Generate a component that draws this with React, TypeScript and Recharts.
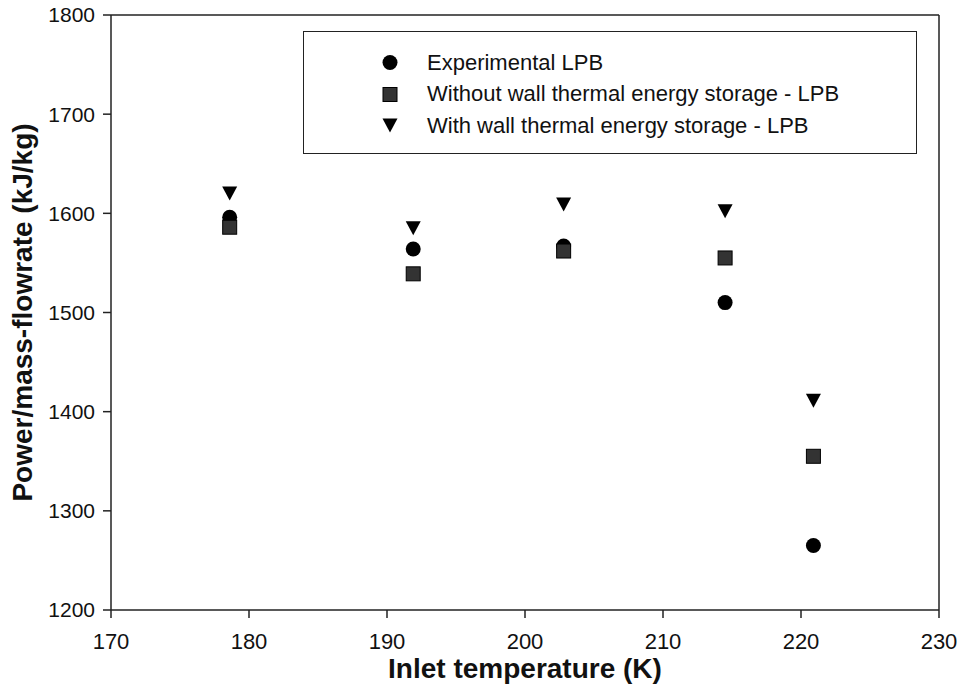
import { ScatterChart, Scatter, XAxis, YAxis, ReferenceLine } from "recharts"

const temperatures = [178.6, 191.9, 202.8, 214.5, 220.9]
const experimental = [1596, 1564, 1567, 1510, 1265]
const withoutStorage = [1586, 1539, 1562, 1555, 1355]
const withStorage = [1620, 1585, 1609, 1602, 1411]
const xTicks = [170, 180, 190, 200, 210, 220, 230]
const yTicks = [1200, 1300, 1400, 1500, 1600, 1700, 1800]

const FONT = "'Liberation Sans', Arial, sans-serif"

const toPoints = (vals: number[]) => temperatures.map((t, i) => ({ x: t, y: vals[i] }))

const CircleShape = ({ cx, cy }: any) => <circle cx={cx} cy={cy} r={7.5} fill="#000" />
const SquareShape = ({ cx, cy }: any) => (
    <rect x={cx - 7} y={cy - 7} width={14} height={14} fill="#333" stroke="#000" strokeWidth={1} />
)
const TriangleShape = ({ cx, cy }: any) => (
    <path d={`M${cx - 7.5},${cy - 7} L${cx + 7.5},${cy - 7} L${cx},${cy + 7} Z`} fill="#000" />
)

const legendItems = [
    { name: "Experimental LPB", Shape: CircleShape },
    { name: "Without wall thermal energy storage - LPB", Shape: SquareShape },
    { name: "With wall thermal energy storage - LPB", Shape: TriangleShape },
]

// legend drawn as an overlay box so it doesn't eat into the plot area
function LegendBox() {
    return (
        <div style={{ position: "absolute", left: 303, top: 31, width: 614, height: 123, border: "1.5px solid #222", background: "#fff", boxSizing: "border-box" }}>
            {legendItems.map((item, i) => (
                <div key={item.name} style={{ position: "absolute", left: 0, top: 15 + i * 31.5, height: 31, display: "flex", alignItems: "center" }}>
                    <svg width={120} height={31} style={{ display: "block" }}>
                        <item.Shape cx={86} cy={15.5} />
                    </svg>
                    <span style={{ fontFamily: FONT, fontSize: 22, color: "#111", marginLeft: 3 }}>{item.name}</span>
                </div>
            ))}
        </div>
    )
}

export default function App() {
    return (
        <div style={{ position: "absolute", left: 0, top: 0, width: 964, height: 694, background: "#fff" }}>
            <ScatterChart width={964} height={694} margin={{ top: 15, right: 25, left: 0, bottom: 0 }}>
                <XAxis
                    type="number"
                    dataKey="x"
                    domain={[170, 230]}
                    ticks={xTicks}
                    height={84}
                    tickSize={8}
                    tickMargin={15}
                    stroke="#222"
                    strokeWidth={1.5}
                    tick={{ fill: "#111", fontSize: 22, fontFamily: FONT }}
                    label={{ value: "Inlet temperature (K)", position: "insideBottom", offset: 16, style: { fontFamily: FONT, fontSize: 28, fontWeight: "bold", fill: "#111" } }}
                />
                <YAxis
                    type="number"
                    dataKey="y"
                    domain={[1200, 1800]}
                    ticks={yTicks}
                    width={111}
                    tickSize={8}
                    tickMargin={8}
                    stroke="#222"
                    strokeWidth={1.5}
                    tick={{ fill: "#111", fontSize: 21, fontFamily: FONT }}
                    label={{ value: "Power/mass-flowrate (kJ/kg)", angle: -90, position: "insideLeft", offset: 22, style: { textAnchor: "middle", fontFamily: FONT, fontSize: 28, fontWeight: "bold", fill: "#111" } }}
                />
                <ReferenceLine y={1800} stroke="#222" strokeWidth={1.5} />
                <ReferenceLine x={230} stroke="#222" strokeWidth={1.5} />
                <Scatter name="Experimental LPB" data={toPoints(experimental)} shape={<CircleShape />} isAnimationActive={false} />
                <Scatter name="Without wall thermal energy storage - LPB" data={toPoints(withoutStorage)} shape={<SquareShape />} isAnimationActive={false} />
                <Scatter name="With wall thermal energy storage - LPB" data={toPoints(withStorage)} shape={<TriangleShape />} isAnimationActive={false} />
            </ScatterChart>
            <LegendBox />
        </div>
    )
}
